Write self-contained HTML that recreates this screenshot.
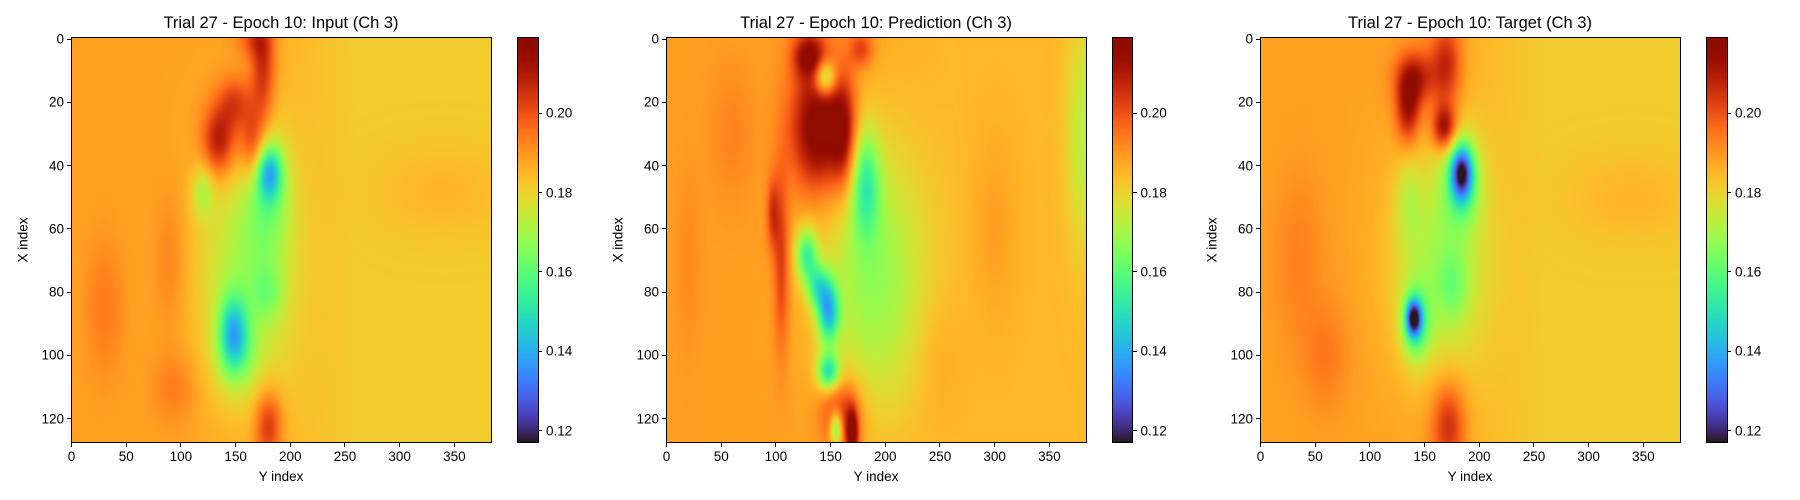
<!DOCTYPE html>
<html><head><meta charset="utf-8">
<style>
body{margin:0;background:#fff;width:1800px;height:500px;overflow:hidden;font-family:"Liberation Sans","DejaVu Sans",sans-serif}
#root{position:relative;width:1800px;height:500px}
canvas{position:absolute;image-rendering:auto}
.t{position:absolute;color:#000;white-space:nowrap}
.tick{position:absolute;background:#000}
.frame{position:absolute;border:1px solid #000;box-sizing:border-box}
</style></head>
<body>
<div id="root"></div>
<script>
// ---- data ----
const vmin = 0.1171, vmax = 0.2190;
const cbTicks = [0.12, 0.14, 0.16, 0.18, 0.20];
const xTicks = [0, 50, 100, 150, 200, 250, 300, 350];
const yTicks = [0, 20, 40, 60, 80, 100, 120];
const titles = ["Trial 27 - Epoch 10: Input (Ch 3)", "Trial 27 - Epoch 10: Prediction (Ch 3)", "Trial 27 - Epoch 10: Target (Ch 3)"];
const baseLeft = [0.1885, 0.1890, 0.1885];
const baseRight = [0.1815, 0.1850, 0.1815];
// blobs: [col, row, sigmaCol, sigmaRow, amplitude]
const blobsInput = [
 [175,8,8,14,0.020],[165,0,10,4,0.010],[135,32,11,8,0.024],[150,20,11,6,0.015],[165,33,8,8,0.018],
 [158,75,30,28,-0.018],[180,50,15,14,-0.014],[181,42,8,6,-0.032],[120,48,7,6,-0.013],
 [180,80,10,6,-0.010],[148,92,9,8,-0.030],[150,100,13,8,-0.012],[180,122,9,8,0.020],
 [95,110,14,8,0.006],[30,85,12,15,0.006],[90,70,10,15,0.005],[340,48,45,10,0.004]
];
const blobsPred = [
 [140,28,18,14,0.034],[130,5,10,5,0.025],[162,30,8,12,0.02],[145,12,7,4,-0.03],[178,3,8,4,0.015],
 [188,75,34,30,-0.02],[182,45,9,12,-0.025],[128,68,7,6,-0.03],[138,78,7,5,-0.025],
 [148,86,7,7,-0.04],[105,70,5,20,0.015],[97,55,4,8,0.015],[148,105,7,4,-0.035],
 [160,118,13,8,0.02],[170,125,4,6,0.03],[155,123,4,4,-0.03],[380,30,10,25,-0.012],
 [60,30,14,15,0.004],[300,60,14,20,0.004],[250,100,16,15,0.003],[20,70,8,20,0.003]
];
const blobsTarget = [
 [170,8,10,10,0.02],[142,12,13,6,0.02],[135,22,8,8,0.024],[168,28,8,5,0.028],
 [162,70,30,25,-0.018],[184,45,12,10,-0.02],[184,42,7,6,-0.048],[135,50,8,10,-0.008],
 [176,78,10,8,-0.01],[142,90,9,8,-0.025],[140,88,5,4,-0.048],[172,122,11,10,0.02],
 [35,70,16,20,0.005],[60,100,14,12,0.006],[340,50,45,10,0.004]
];
const allBlobs = [blobsInput, blobsPred, blobsTarget];
const NX = 384, NY = 128;

// ---- layout ----
const axL = [71, 666, 1260], axW = 420, axT = 37.5, axH = 405;
const cbL = [517.5, 1112, 1706.5], cbW = 20.5;

function turbo(t){
 t=Math.max(0,Math.min(1,t));
 const r=0.13572138+t*(4.61539260+t*(-42.66032258+t*(132.13108234+t*(-152.94239396+t*59.28637943))));
 const g=0.09140261+t*(2.19418839+t*(4.84296658+t*(-14.18503333+t*(4.27729857+t*2.82956604))));
 const b=0.10667330+t*(12.64194608+t*(-60.58204836+t*(110.36276771+t*(-89.90310912+t*27.34824973))));
 return [Math.round(255*Math.max(0,Math.min(1,r))),Math.round(255*Math.max(0,Math.min(1,g))),Math.round(255*Math.max(0,Math.min(1,b)))];
}
const root=document.getElementById('root');
function xPix(p,v){return axL[p]+(v+0.5)/NX*axW;}
function yPix(v){return axT+(v+0.5)/NY*axH;}
function cbY(v){return axT+(vmax-v)/(vmax-vmin)*axH;}
function txt(s,x,y,size,anchor,name){
 const d=document.createElement('div');d.className='t';d.textContent=s;d.style.fontSize=size+'px';
 d.style.left=x+'px';d.style.top=y+'px';
 d.style.transform=anchor;
 
 
 root.appendChild(d);return d;
}
function tick(x,y,w,h,name){
 const d=document.createElement('div');d.className='tick';
 d.style.left=x+'px';d.style.top=y+'px';d.style.width=w+'px';d.style.height=h+'px';
 
 
 root.appendChild(d);
}
for(let p=0;p<3;p++){
 const cv=document.createElement('canvas');cv.width=NX;cv.height=NY;
 cv.style.left=axL[p]+'px';cv.style.top=axT+'px';cv.style.width=axW+'px';cv.style.height=axH+'px';
 
 
 root.appendChild(cv);
 const ctx=cv.getContext('2d');const img=ctx.createImageData(NX,NY);
 const bl=allBlobs[p];
 for(let r=0;r<NY;r++)for(let c=0;c<NX;c++){
  const f=Math.max(0,Math.min(1,(c-150)/110));
  let v=baseLeft[p]*(1-f)+baseRight[p]*f;
  for(const b of bl){const dx=(c-b[0])/b[2],dy=(r-b[1])/b[3];const e=dx*dx+dy*dy;if(e<20)v+=b[4]*Math.exp(-0.5*e);}
  const col=turbo((v-vmin)/(vmax-vmin));const i=4*(r*NX+c);
  img.data[i]=col[0];img.data[i+1]=col[1];img.data[i+2]=col[2];img.data[i+3]=255;
 }
 ctx.putImageData(img,0,0);
 const fr=document.createElement('div');fr.className='frame';
 fr.style.left=(axL[p]-0.5)+'px';fr.style.top=(axT-0.5)+'px';fr.style.width=(axW+1)+'px';fr.style.height=(axH+1)+'px';
 
 
 root.appendChild(fr);
 txt(titles[p],axL[p]+axW/2,14,16.5,'translateX(-50%)','chart-title-'+(p+1));
 for(const v of xTicks){const x=xPix(p,v);tick(x-0.5,axT+axH,1,4,'x-tick');txt(String(v),x,axT+axH+6,13.5,'translateX(-50%)','x-tick-label');}
 for(const v of yTicks){const y=yPix(v);tick(axL[p]-4,y-0.5,4,1,'y-tick');txt(String(v),axL[p]-7,y,13.5,'translate(-100%,-50%)','y-tick-label');}
 txt('Y index',axL[p]+axW/2,469,13.5,'translateX(-50%)','x-axis-title');
 txt('X index',axL[p]-48,axT+axH/2,13.5,'translate(-50%,-50%) rotate(-90deg)','y-axis-title');
 const cb=document.createElement('canvas');cb.width=1;cb.height=256;
 cb.style.left=cbL[p]+'px';cb.style.top=axT+'px';cb.style.width=cbW+'px';cb.style.height=axH+'px';
 
 
 root.appendChild(cb);
 const cctx=cb.getContext('2d');const cimg=cctx.createImageData(1,256);
 for(let i=0;i<256;i++){const c=turbo(1-i/255);cimg.data[4*i]=c[0];cimg.data[4*i+1]=c[1];cimg.data[4*i+2]=c[2];cimg.data[4*i+3]=255;}
 cctx.putImageData(cimg,0,0);
 const cf=document.createElement('div');cf.className='frame';
 cf.style.left=(cbL[p]-0.5)+'px';cf.style.top=(axT-0.5)+'px';cf.style.width=(cbW+1)+'px';cf.style.height=(axH+1)+'px';
 
 
 root.appendChild(cf);
 for(const v of cbTicks){const y=cbY(v);tick(cbL[p]+cbW,y-0.5,4,1,'colorbar-tick');txt(v.toFixed(2),cbL[p]+cbW+8,y,13.5,'translateY(-50%)','colorbar-tick-label');}
}
</script>
</body></html>
